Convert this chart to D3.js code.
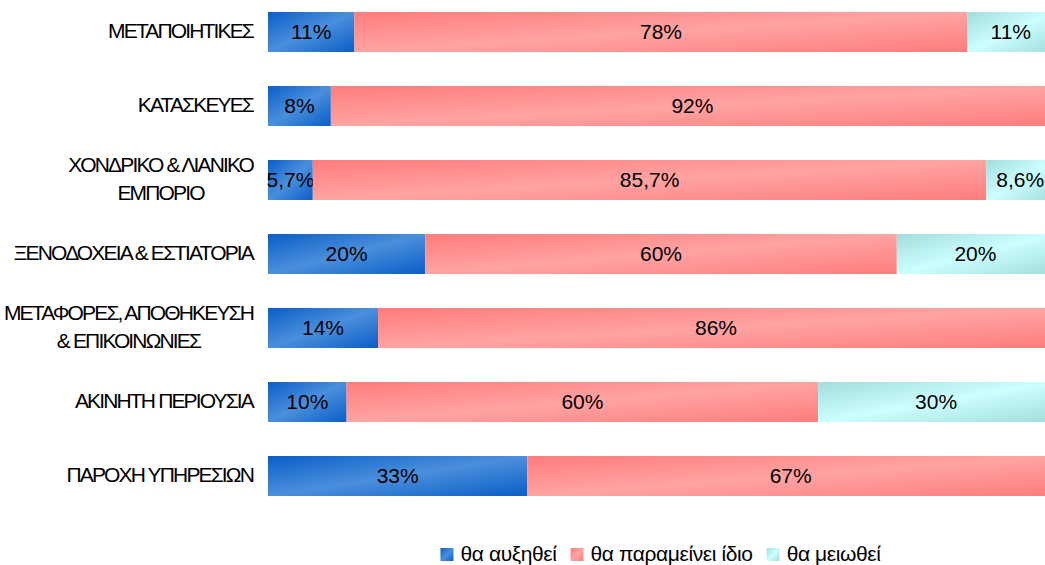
<!DOCTYPE html>
<html><head><meta charset="utf-8">
<script src="https://cdn.jsdelivr.net/npm/d3@7"></script>
<style>
html,body{margin:0;padding:0;background:#fff;}
svg{display:block;}
text{font-family:"Liberation Sans",Arial,sans-serif;}
</style></head>
<body>
<svg id="chart" width="1045" height="565"></svg>
<script>
const categories = [
  ["ΜΕΤΑΠΟΙΗΤΙΚΕΣ"],
  ["ΚΑΤΑΣΚΕΥΕΣ"],
  ["ΧΟΝΔΡΙΚΟ & ΛΙΑΝΙΚΟ", "ΕΜΠΟΡΙΟ"],
  ["ΞΕΝΟΔΟΧΕΙΑ & ΕΣΤΙΑΤΟΡΙΑ"],
  ["ΜΕΤΑΦΟΡΕΣ, ΑΠΟΘΗΚΕΥΣΗ", "& ΕΠΙΚΟΙΝΩΝΙΕΣ"],
  ["ΑΚΙΝΗΤΗ ΠΕΡΙΟΥΣΙΑ"],
  ["ΠΑΡΟΧΗ ΥΠΗΡΕΣΙΩΝ"]
];
const seriesNames = ["θα αυξηθεί", "θα παραμείνει ίδιο", "θα μειωθεί"];
const increase = [11, 8, 5.7, 20, 14, 10, 33];
const same     = [78, 92, 85.7, 60, 86, 60, 67];
const decrease = [11, 0, 8.6, 20, 0, 30, 0];

const gradStops = [
  ["#0a5dc7", "#4a8fdc"],
  ["#ff7c7c", "#ffa3a3"],
  ["#a3dbdb", "#ccffff"]
];

const svg = d3.select("#chart");
const defs = svg.append("defs");
gradStops.forEach((c, i) => {
  const g = defs.append("linearGradient").attr("id", "g" + i)
    .attr("x1", 0).attr("y1", 0).attr("x2", 1).attr("y2", 1);
  g.append("stop").attr("offset", "0%").attr("stop-color", c[0]);
  g.append("stop").attr("offset", "50%").attr("stop-color", c[1]);
  g.append("stop").attr("offset", "100%").attr("stop-color", c[0]);
});

const x = d3.scaleLinear().domain([0, 100]).range([268, 1054]);
const y = d3.scaleBand().domain(d3.range(categories.length)).range([-5, 513])
  .paddingInner(0.46).paddingOuter(0.23);

const series = [increase, same, decrease];
const fmt = v => (Number.isInteger(v) ? d3.format("d")(v) : d3.format(".1f")(v).replace(".", ",")) + "%";

categories.forEach((cat, i) => {
  let start = 0;
  series.forEach((s, k) => {
    const v = s[i];
    if (!v) return;
    const x0 = x(start), x1 = x(start + v);
    svg.append("rect")
      .attr("x", x0).attr("y", y(i))
      .attr("width", x1 - x0).attr("height", y.bandwidth())
      .attr("fill", "url(#g" + k + ")");
    svg.append("text")
      .attr("x", (x0 + x1) / 2).attr("y", y(i) + y.bandwidth() / 2)
      .attr("dy", "0.31em")
      .attr("text-anchor", "middle")
      .attr("font-size", "21px")
      .attr("fill", "#000")
      .text(fmt(v));
    start += v;
  });
});

// category labels
const labelRight = 253;
const lineH = 28;
categories.forEach((lines, i) => {
  const g = svg.append("g");
  const cy = y(i) + y.bandwidth() / 2;
  const texts = lines.map((l, j) => g.append("text")
    .attr("font-size", "21px")
    .attr("letter-spacing", "-1.85px")
    .attr("text-anchor", "middle")
    .attr("fill", "#000")
    .attr("y", cy + (j - (lines.length - 1) / 2) * lineH)
    .attr("dy", "0.3em")
    .text(l));
  const maxW = d3.max(texts, t => t.node().getComputedTextLength());
  texts.forEach(t => t.attr("x", labelRight - maxW / 2));
});

// legend
const legend = svg.append("g");
let lx = 0;
seriesNames.forEach((name, k) => {
  legend.append("rect").attr("x", lx).attr("y", -6.5).attr("width", 13).attr("height", 13)
    .attr("fill", "url(#g" + k + ")");
  const t = legend.append("text").attr("x", lx + 20).attr("y", 0).attr("dy", "0.33em")
    .attr("font-size", "21px").attr("letter-spacing", "-0.4px").attr("fill", "#000").text(name);
  lx += 20 + t.node().getComputedTextLength() + 14;
});
const lw = lx - 14;
legend.attr("transform", `translate(${660.5 - lw / 2},554.5)`);
</script>
</body></html>
